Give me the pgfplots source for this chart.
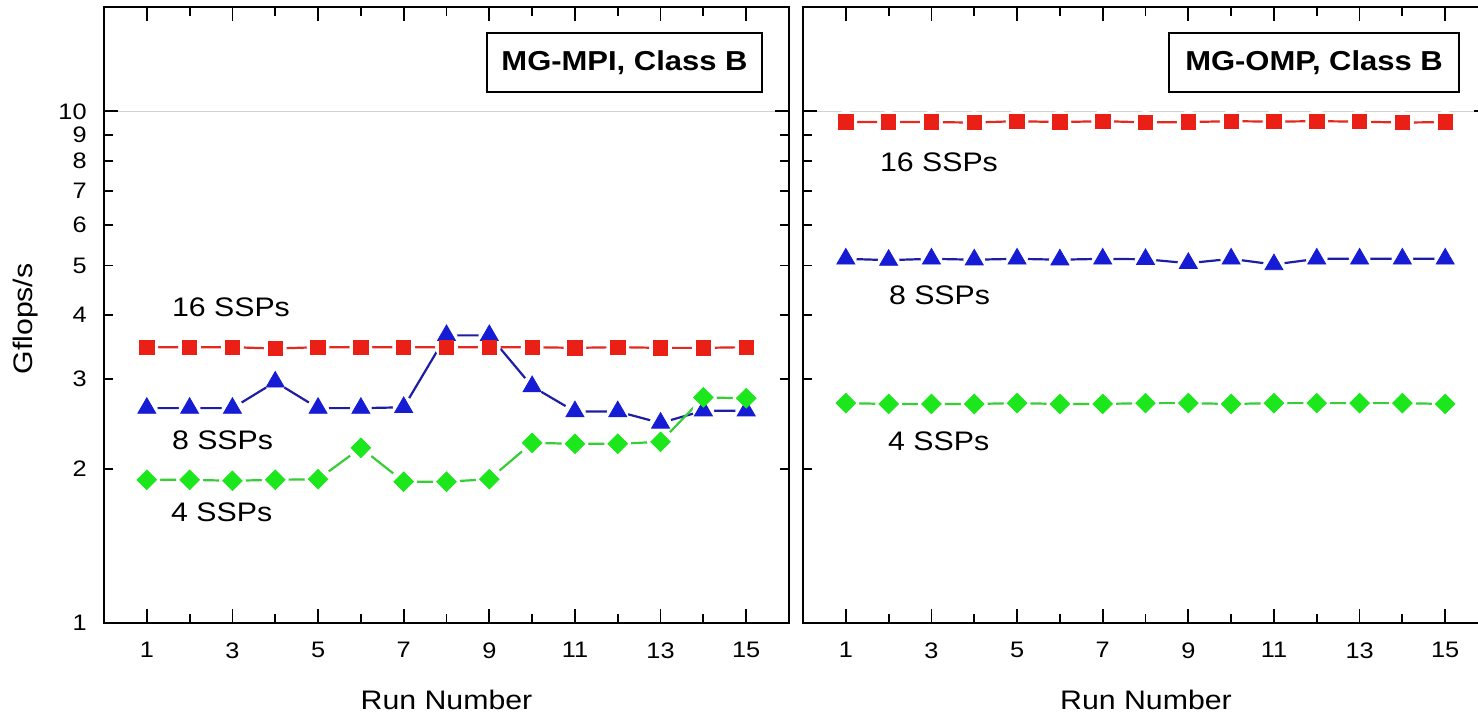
\documentclass[border=0pt]{standalone}
\usepackage{fontspec}
\setmainfont{Liberation Sans}[FakeStretch=1.13]
\usepackage{pgfplots}
\pgfplotsset{compat=1.18}
\usepackage{pgfplotstable}

\definecolor{cred}{RGB}{234,32,22}
\definecolor{cblue}{RGB}{22,28,212}
\definecolor{cgreen}{RGB}{28,230,28}
\definecolor{lred}{RGB}{226,42,32}
\definecolor{lblue}{RGB}{30,30,165}
\definecolor{lgreen}{RGB}{55,205,55}

\pgfplotstableread{
x  mpi16 mpi8 mpi4  omp16 omp8 omp4
1  3.46  2.63 1.905 9.53  5.15 2.69
2  3.46  2.63 1.905 9.53  5.12 2.68
3  3.46  2.63 1.897 9.53  5.15 2.68
4  3.44  2.96 1.905 9.51  5.13 2.68
5  3.46  2.63 1.91  9.57  5.15 2.69
6  3.46  2.63 2.20  9.53  5.13 2.68
7  3.46  2.64 1.889 9.57  5.15 2.68
8  3.46  3.65 1.889 9.52  5.14 2.69
9  3.46  3.65 1.91  9.53  5.05 2.69
10 3.46  2.90 2.25  9.57  5.15 2.68
11 3.45  2.59 2.24  9.55  5.02 2.69
12 3.46  2.59 2.24  9.57  5.15 2.69
13 3.45  2.46 2.26  9.55  5.15 2.69
14 3.45  2.60 2.76  9.51  5.15 2.69
15 3.46  2.60 2.75  9.53  5.15 2.68
}\data

\pgfplotsset{
  lin/.style={line width=1.1pt, mark=none},
  halo/.style={only marks, mark=*, mark size=#1, color=white},
  sq/.style={only marks, mark=square*, mark size=3.6pt, color=cred},
  tri/.style={only marks, mark=triangle*, mark size=5.2pt, color=cblue},
  dia/.style={only marks, mark=square*, mark size=3.45pt, mark options={rotate=45}, color=cgreen},
}
\tikzset{lab/.style={anchor=base west, inner sep=0pt, font=\fontsize{13.4}{16}\selectfont}}

\begin{document}
\begin{tikzpicture}
\useasboundingbox (0,0) rectangle (739pt,357.5pt);

% ---------------- left panel: MG-MPI ----------------
\begin{axis}[
    at={(52pt,46pt)}, anchor=south west,
    scale only axis, width=342.5pt, height=308pt,
    xmin=0, xmax=16, ymode=log, ymin=1, ymax=16,
    axis line style={line width=1pt},
    tick style={line width=0.9pt, black},
    tick align=inside,
    major tick length=7pt, minor tick length=4.5pt,
    xtick={1,3,5,7,9,11,13,15},
    xticklabels={1,3,5,7,9,11,13,15},
    minor xtick={2,4,6,8,10,12,14},
    ytick={1,10},
    yticklabels={1,10},
    yminorticks=false,
    ymajorgrids=true,
    major grid style={line width=0.5pt, black!18},
    extra y ticks={2,3,4,5,6,7,8,9},
    extra y tick labels={2,3,4,5,6,7,8,9},
    extra y tick style={major tick length=4.5pt, ymajorgrids=false},
    tick label style={font=\fontsize{11.2}{13}\selectfont, inner sep=0pt},
    xticklabel style={yshift=-9.5pt},
    yticklabel style={xshift=-8.5pt}]
\addplot[lin, lblue]  table[x=x,y=mpi8]{\data};
\addplot[lin, lred]   table[x=x,y=mpi16]{\data};
\addplot[lin, lgreen] table[x=x,y=mpi4]{\data};
\addplot[halo=5.2pt] table[x=x,y=mpi8]{\data};
\addplot[halo=5.5pt] table[x=x,y=mpi16]{\data};
\addplot[halo=6.5pt] table[x=x,y=mpi4]{\data};
\addplot[tri] table[x=x,y=mpi8]{\data};
\addplot[sq]  table[x=x,y=mpi16]{\data};
\addplot[dia] table[x=x,y=mpi4]{\data};
\node[lab] at (axis cs:1.58,3.97) {16 SSPs};
\node[lab] at (axis cs:1.58,2.18) {8 SSPs};
\node[lab] at (axis cs:1.56,1.577) {4 SSPs};
\end{axis}

% ---------------- right panel: MG-OMP ----------------
\begin{axis}[
    at={(401.5pt,46pt)}, anchor=south west,
    scale only axis, width=342.5pt, height=308pt,
    xmin=0, xmax=16, ymode=log, ymin=1, ymax=16,
    axis line style={line width=1pt},
    tick style={line width=0.9pt, black},
    tick align=inside,
    major tick length=7pt, minor tick length=4.5pt,
    xtick={1,3,5,7,9,11,13,15},
    xticklabels={1,3,5,7,9,11,13,15},
    minor xtick={2,4,6,8,10,12,14},
    ytick={1,10},
    yticklabels={},
    yminorticks=false,
    ymajorgrids=true,
    major grid style={line width=0.5pt, black!18},
    extra y ticks={2,3,4,5,6,7,8,9},
    extra y tick labels={},
    extra y tick style={major tick length=4.5pt, ymajorgrids=false},
    tick label style={font=\fontsize{11.2}{13}\selectfont, inner sep=0pt},
    xticklabel style={yshift=-9.5pt},
    yticklabel style={xshift=-8.5pt}]
\addplot[lin, lblue]  table[x=x,y=omp8]{\data};
\addplot[lin, lred]   table[x=x,y=omp16]{\data};
\addplot[lin, lgreen] table[x=x,y=omp4]{\data};
\addplot[halo=5.2pt] table[x=x,y=omp8]{\data};
\addplot[halo=5.5pt] table[x=x,y=omp16]{\data};
\addplot[halo=6.5pt] table[x=x,y=omp4]{\data};
\addplot[tri] table[x=x,y=omp8]{\data};
\addplot[sq]  table[x=x,y=omp16]{\data};
\addplot[dia] table[x=x,y=omp4]{\data};
\node[lab] at (axis cs:1.79,7.63) {16 SSPs};
\node[lab] at (axis cs:2.0,4.19) {8 SSPs};
\node[lab] at (axis cs:1.98,2.17) {4 SSPs};
\end{axis}

% title boxes
\node[draw, line width=0.9pt, minimum width=137.5pt, minimum height=29.5pt, inner sep=0pt,
      font=\fontsize{13.7}{16}\selectfont\bfseries] at (312.25pt,326.25pt) {MG-MPI, Class B};
\node[draw, line width=0.9pt, minimum width=145pt, minimum height=29.5pt, inner sep=0pt,
      font=\fontsize{13.7}{16}\selectfont\bfseries] at (657pt,326.25pt) {MG-OMP, Class B};

% axis labels
\node[rotate=90, anchor=base, font=\fontsize{13.4}{16}\selectfont] at (16.5pt,198pt) {Gflops/s};
\node[anchor=base, font=\fontsize{13.4}{16}\selectfont] at (223.25pt,2.5pt) {Run Number};
\node[anchor=base, font=\fontsize{13.4}{16}\selectfont] at (573pt,2.5pt) {Run Number};
\end{tikzpicture}
\end{document}
